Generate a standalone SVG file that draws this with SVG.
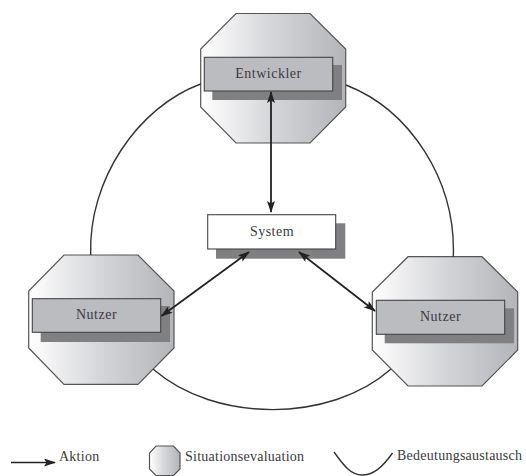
<svg xmlns="http://www.w3.org/2000/svg" width="526" height="476" viewBox="0 0 526 476">
<style>
text{font-family:"Liberation Serif",serif;font-size:14px;fill:#3a3a40;letter-spacing:.5px}
.m{text-anchor:middle}
.l{letter-spacing:.25px}
.oct{fill:url(#g);stroke:#555;stroke-width:1.2}
.box{fill:#bbbcc0;stroke:#444;stroke-width:1.1}
.sh{fill:#808082}
.arc{fill:none;stroke:#333;stroke-width:1.4}
.ar{fill:none;stroke:#222;stroke-width:1.8;marker-start:url(#as);marker-end:url(#a)}
</style>
<defs>
<linearGradient id="g"><stop offset="0" stop-color="#fff"/><stop offset=".5" stop-color="#d4d5d8"/><stop offset="1" stop-color="#b4b5b9"/></linearGradient>
<marker id="a" viewBox="0 0 12 8" refX="11" refY="4" markerWidth="12" markerHeight="8" markerUnits="userSpaceOnUse" orient="auto"><path d="M0 0L12 4L0 8L2.5 4Z" fill="#222"/></marker>
<marker id="as" viewBox="0 0 12 8" refX="11" refY="4" markerWidth="12" markerHeight="8" markerUnits="userSpaceOnUse" orient="auto-start-reverse"><path d="M0 0L12 4L0 8L2.5 4Z" fill="#222"/></marker>
</defs>
<rect width="526" height="476" fill="#fff"/>
<g id="entwickler"><path class="oct" d="M236 13.500H310L345.700 49V107L310 143H236L200.700 107V49Z"/><rect class="sh" x="212.300" y="65" width="129.700" height="35"/><rect class="box" x="204.300" y="57.300" width="128.400" height="33.700"/><text class="m" x="268.500" y="78">Entwickler</text></g>
<g id="nutzer-links"><path class="oct" d="M64 255H138L174 291V348L138 384.300H64L28.700 348V291Z"/><rect class="sh" x="40.700" y="306" width="129.300" height="36"/><rect class="box" x="32.300" y="298.700" width="128.400" height="33.600"/><text class="m" x="96.500" y="319">Nutzer</text></g>
<g id="nutzer-rechts"><path class="oct" d="M408 256.700H482L517.700 292V350L482 386H408L372.300 350V292Z"/><rect class="sh" x="384.700" y="308.300" width="129.300" height="35"/><rect class="box" x="376.300" y="300.300" width="128.400" height="34"/><text class="m" x="440.500" y="320.500">Nutzer</text></g>
<g id="system"><rect class="sh" x="216" y="223.300" width="129.300" height="35.400"/><rect x="207.700" y="214.700" width="128" height="34.300" fill="#fff" stroke="#444" stroke-width="1.1"/><text class="m" x="272" y="236">System</text></g>
<g id="connectors">
<path class="arc" d="M90.700 255C88 180 138 107 200.700 84"/>
<path class="arc" d="M346 85C410 110 456 180 453.300 256.700"/>
<path class="arc" d="M153.300 369.300C215 423 330 423 390.700 369.300"/>
<path class="ar" d="M271 92V212"/>
<path class="ar" d="M161.500 316L249 252"/>
<path class="ar" d="M375 311L299 252"/>
</g>
<g id="legende">
<path d="M11 462.500H55" fill="none" stroke="#222" stroke-width="1.6" marker-end="url(#a)"/>
<text class="l" x="59" y="461">Aktion</text>
<path class="oct" d="M156 446H173.500L180 453V469L173.500 475.500H156L149.500 469V453Z"/>
<text class="l" x="185" y="461">Situationsevaluation</text>
<path class="arc" d="M334 452C344 466 351 475 362 475C373 475 382 468 392.500 453"/>
<text class="l" x="397" y="460">Bedeutungsaustausch</text>
</g>
</svg>
